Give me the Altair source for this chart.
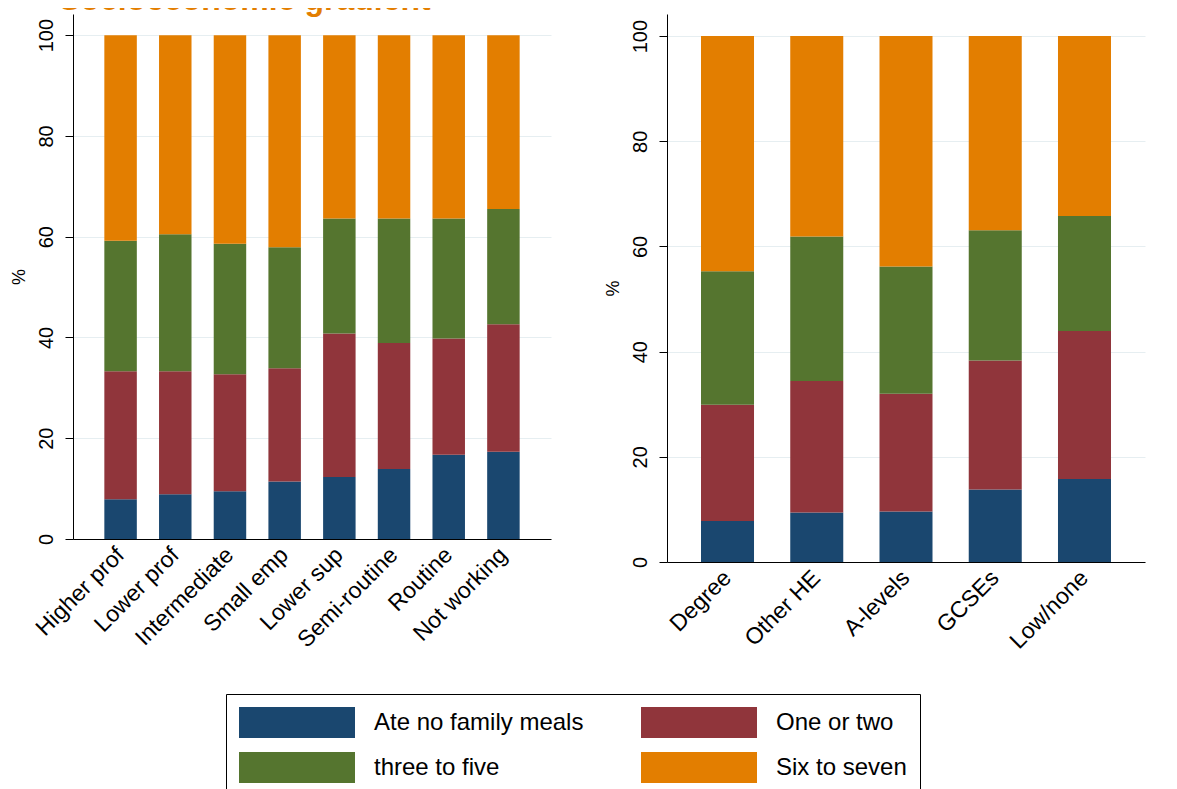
import altair as alt
import pandas as pd

series = ["Ate no family meals", "One or two", "three to five", "Six to seven"]
colors = ["#1a476f", "#90353b", "#55752f", "#e37e00"]

# left panel: parental occupation (NS-SEC)
occupation = ["Higher prof", "Lower prof", "Intermediate", "Small emp",
              "Lower sup", "Semi-routine", "Routine", "Not working"]
occ_none = [7.9, 8.9, 9.5, 11.4, 12.3, 13.9, 16.7, 17.3]
occ_one_two = [25.4, 24.4, 23.2, 22.5, 28.5, 25.0, 23.1, 25.3]
occ_three_five = [25.9, 27.2, 25.9, 24.0, 22.8, 24.7, 23.8, 22.9]
occ_six_seven = [40.8, 39.5, 41.4, 42.1, 36.4, 36.4, 36.4, 34.5]

# right panel: parental education
education = ["Degree", "Other HE", "A-levels", "GCSEs", "Low/none"]
edu_none = [7.8, 9.4, 9.6, 13.8, 15.8]
edu_one_two = [22.1, 25.0, 22.4, 24.5, 28.1]
edu_three_five = [25.4, 27.5, 24.2, 24.8, 21.9]
edu_six_seven = [44.7, 38.1, 43.8, 36.9, 34.2]

FONT = "Liberation Sans"


def long_table(cats, *cols):
    rows = []
    for k, vals in enumerate(cols):
        for c, v in zip(cats, vals):
            rows.append({"group": c, "series": series[k], "order": k, "value": v})
    return pd.DataFrame(rows)


occ_df = long_table(occupation, occ_none, occ_one_two, occ_three_five, occ_six_seven)
edu_df = long_table(education, edu_none, edu_one_two, edu_three_five, edu_six_seven)

legend = alt.Legend(
    title=None, orient="none", legendX=153, legendY=680, columns=2,
    direction="horizontal",
    symbolType="M-1,-0.267L1,-0.267L1,0.267L-1,0.267Z", symbolSize=13456,
    symbolStrokeWidth=0, symbolOpacity=1, clipHeight=31,
    labelFont=FONT, labelFontSize=24, labelColor="black", labelOffset=19,
    labelLimit=400, columnPadding=57, rowPadding=14, padding=13,
    strokeColor="black", fillColor="white",
)


def panel(df, cats, pad_outer, height):
    return (
        alt.Chart(df)
        .mark_bar()
        .encode(
            x=alt.X("group:N", sort=cats, title=None,
                    scale=alt.Scale(paddingInner=0.406, paddingOuter=pad_outer),
                    axis=alt.Axis(labelAngle=-45, labelAlign="right", labelBaseline="middle",
                                  labelPadding=12, ticks=False, tickSize=0, labelFontSize=23,
                                  labelOverlap=False, labelLimit=300)),
            y=alt.Y("value:Q", stack="zero", title="%",
                    scale=alt.Scale(domain=[0, 104.2], nice=False, zero=True),
                    axis=alt.Axis(values=[0, 20, 40, 60, 80, 100], labelAngle=-90,
                                  labelAlign="center", labelBaseline="bottom",
                                  labelPadding=9, tickSize=8, labelFontSize=20,
                                  titleFontSize=18, titlePadding=8, grid=True)),
            color=alt.Color("series:N", sort=series,
                            scale=alt.Scale(domain=series, range=colors), legend=legend),
            order=alt.Order("order:Q"),
        )
        .properties(width=478, height=height)
    )


left = panel(occ_df, occupation, 0.573, 525)
right = panel(edu_df, education, 0.381, 548)

chart = (
    alt.hconcat(left, right, spacing=52)
    .properties(
        title=alt.TitleParams("Socioeconomic gradient", anchor="start", fontSize=32,
                              font=FONT, fontWeight="bold", color="#e37e00",
                              offset=-3, dx=49),
        padding={"left": 1, "top": -24, "right": 5, "bottom": 5},
    )
    .configure_view(stroke=None)
    .configure_axis(
        labelFont=FONT, titleFont=FONT, labelColor="black", titleColor="black",
        titleFontWeight="normal", domainColor="black", tickColor="black",
        domainWidth=1, tickWidth=1, gridColor="#e6eef1", gridWidth=1,
    )
)

chart.save("out.html", embed_options={"renderer": "svg", "actions": False})
